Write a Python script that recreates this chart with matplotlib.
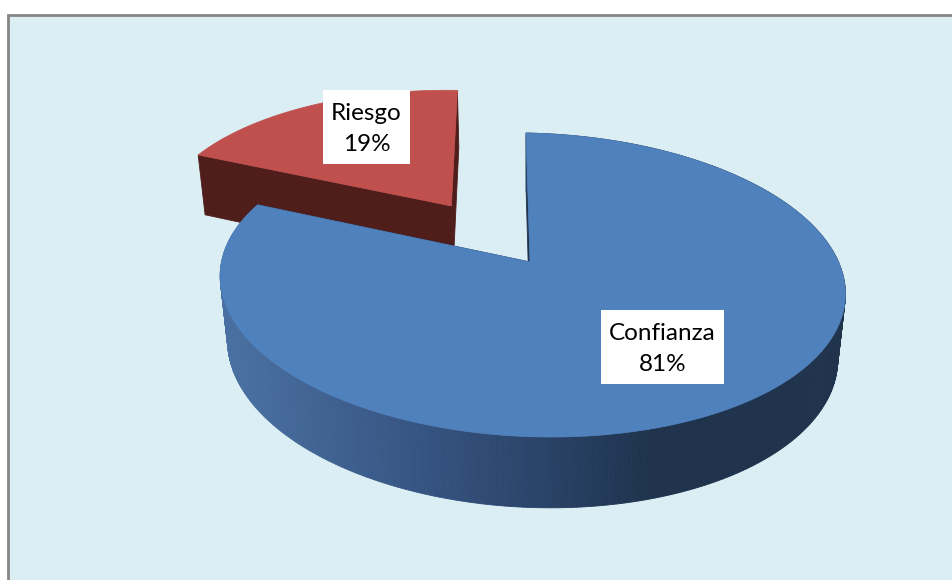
"""Pie chart with a 3D look: Confianza / Riesgo"""

import matplotlib
matplotlib.use("Agg")
import matplotlib.pyplot as plt
import numpy as np
from matplotlib.patches import Polygon, Rectangle

plt.rcParams["font.family"] = ["Lato", "DejaVu Sans"]

labels = ["Confianza", "Riesgo"]
values = [81, 19]
explode = [0, 0.47]

top_colors = ["#4F81BD", "#C0504D"]
# wall shading along the screen x position
wall_x = [220, 400, 540, 650, 850]
wall_r = [74, 56, 42, 31, 31]
wall_g = [113, 87, 67, 51, 51]
wall_b = [163, 133, 104, 77, 77]
red_wall = "#4F1E1B"

# camera: apex pixel, radius scales, perspective, wall height
APEX_X, APEX_Y = 530, 262
SCALE_X, SCALE_Y = 308.5, 148.6
SHEAR = -18
PERSP, PERSP_Z = 0.151, 0.024
WALL = 66


def project(X, Y, z=0.0):
    X, Y = np.asarray(X, float), np.asarray(Y, float)
    w = 1 + PERSP * Y + PERSP_Z * z
    return APEX_X + (SCALE_X * X + SHEAR * Y) / w, APEX_Y + (-SCALE_Y * Y + WALL * z) / w


def wedge_outline(wedge, n=160):
    """Points of the arc of a pie wedge, in pie coordinates."""
    t = np.radians(np.linspace(wedge.theta1, wedge.theta2, n))
    cx, cy = wedge.center
    return cx + wedge.r * np.cos(t), cy + wedge.r * np.sin(t), cx, cy


def wall_quad(ax, X0, Y0, X1, Y1, color, zorder):
    x0, y0 = project([X0, X1], [Y0, Y1])
    x1, y1 = project([X1, X0], [Y1, Y0], 1)
    pts = np.column_stack([np.r_[x0, x1], np.r_[y0, y1]])
    ax.add_patch(Polygon(pts, facecolor=color, edgecolor=color, lw=0.6, zorder=zorder))


def shade(x):
    return (
        np.interp(x, wall_x, wall_r) / 255,
        np.interp(x, wall_x, wall_g) / 255,
        np.interp(x, wall_x, wall_b) / 255,
    )


fig = plt.figure(figsize=(9.53, 5.8), dpi=100, facecolor="white")
ax = fig.add_axes([0, 0, 1, 1])

# pie gives the angles from the values, the wedges are then drawn projected
wedges, _ = ax.pie(values, explode=explode, startangle=87.5, counterclock=False)
blue, red = wedges
for w in wedges:
    w.remove()

ax.set_aspect("auto")
ax.set_xlim(0, 953)
ax.set_ylim(580, 0)
ax.axis("off")

ax.add_patch(Rectangle((8.5, 14.5), 960, 580, facecolor="#DBEEF4",
                       edgecolor="#868686", lw=2, zorder=0))

# red slice
arc_x, arc_y, cx, cy = wedge_outline(red)
wall_quad(ax, cx, cy, arc_x[0], arc_y[0], red_wall, 2)
wall_quad(ax, cx, cy, arc_x[-1], arc_y[-1], red_wall, 2)
px, py = project(np.r_[cx, arc_x], np.r_[cy, arc_y])
ax.add_patch(Polygon(np.column_stack([px, py]), facecolor=top_colors[1],
                     edgecolor=top_colors[1], lw=0.5, zorder=3))

# blue slice
arc_x, arc_y, cx, cy = wedge_outline(blue, 400)
wall_quad(ax, cx, cy, arc_x[-1], arc_y[-1], "#1F334D", 4)
wall_quad(ax, cx, cy, arc_x[0], arc_y[0], "#1F334D", 4)
for i in range(len(arc_x) - 1):
    mx, _ = project(arc_x[i], arc_y[i])
    wall_quad(ax, arc_x[i], arc_y[i], arc_x[i + 1], arc_y[i + 1], shade(mx), 5)
px, py = project(np.r_[cx, arc_x], np.r_[cy, arc_y])
ax.add_patch(Polygon(np.column_stack([px, py]), facecolor=top_colors[0],
                     edgecolor=top_colors[0], lw=0.5, zorder=6))

# labels in white boxes
label_boxes = [(601, 310, 123, 74), (323, 90, 87, 74)]
for name, val, (bx, by, bw, bh) in zip(labels, values, label_boxes):
    ax.add_patch(Rectangle((bx, by), bw, bh, facecolor="white", edgecolor="none", zorder=7))
    ax.text(bx + bw / 2, by + bh / 2 + 2, f"{name}\n{val}%", ha="center", va="center",
            fontsize=17.5, color="black", linespacing=1.55, zorder=8)

fig.savefig("out.png", dpi=100)
